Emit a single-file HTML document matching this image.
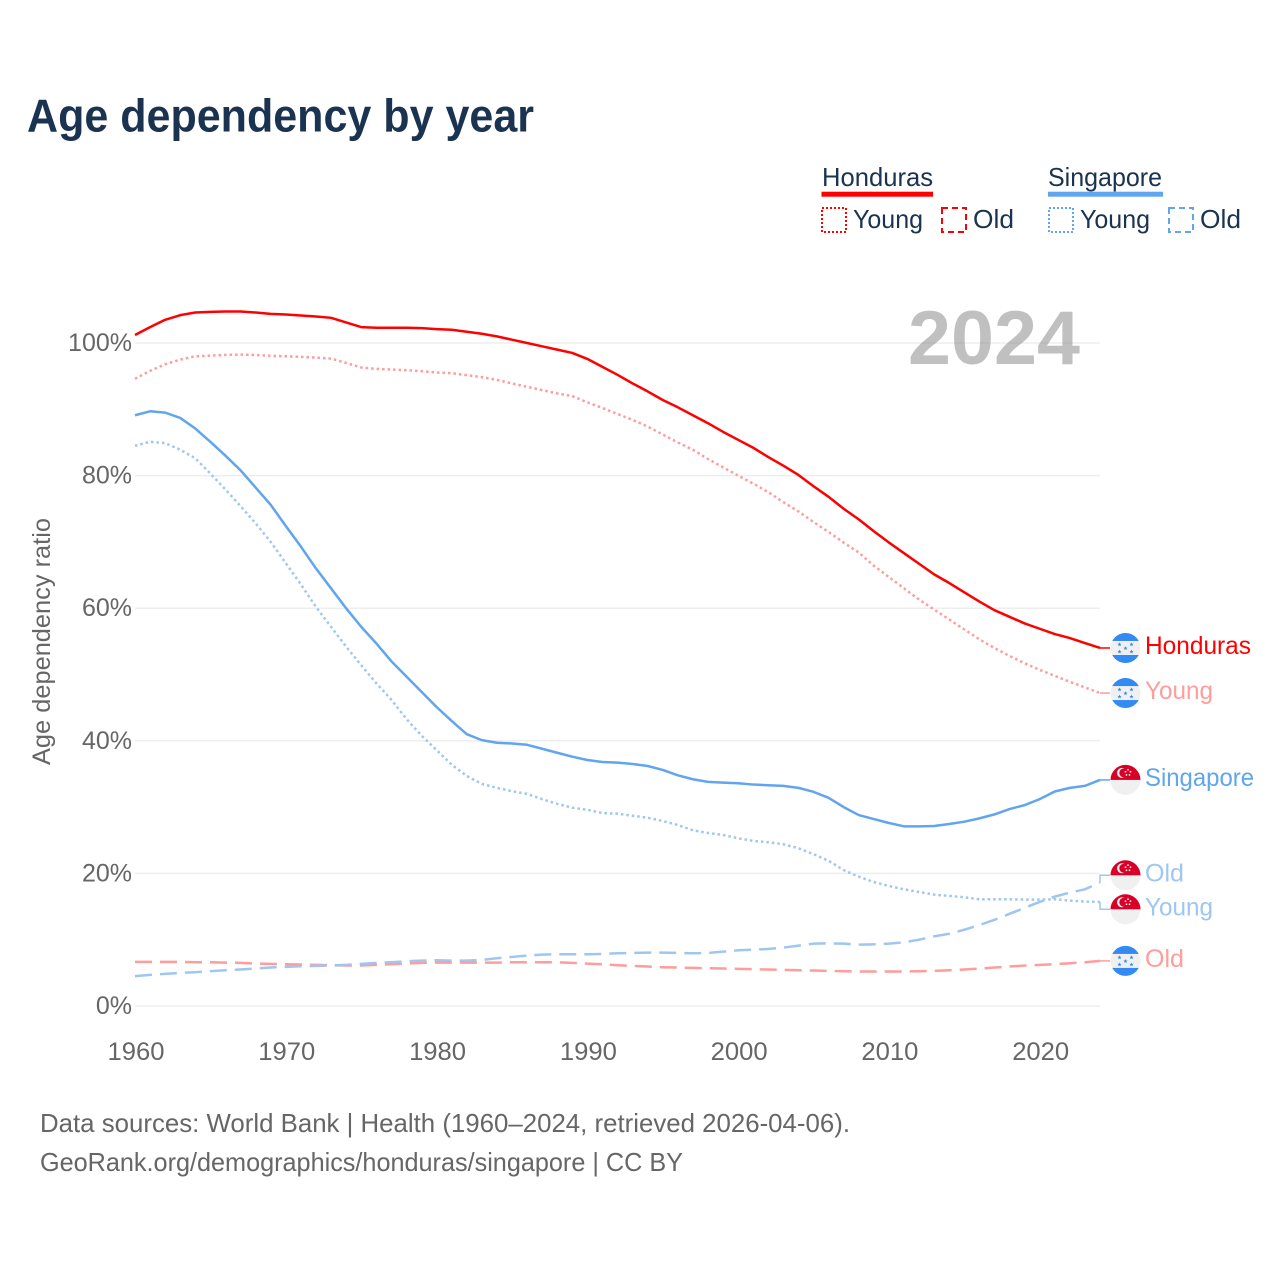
<!DOCTYPE html>
<html lang="en">
<head>
<meta charset="utf-8">
<title>Age dependency by year</title>
<style>
html,body{margin:0;padding:0;background:#fff;}
svg{display:block;font-family:"Liberation Sans",Arial,sans-serif;}
</style>
</head>
<body>
<svg id="chart" xmlns="http://www.w3.org/2000/svg" width="1280" height="1280" viewBox="0 0 1280 1280">
  <defs>
    <clipPath id="flag-clip"><circle cx="0" cy="0" r="15"/></clipPath>
    <path id="flag-star" d="M0 -2.2L0.6 -0.7L2.1 -0.7L0.9 0.3L1.3 1.8L0 0.9L-1.3 1.8L-0.9 0.3L-2.1 -0.7L-0.6 -0.7Z" fill="#338af3"/>
    <g id="flag-honduras" clip-path="url(#flag-clip)">
      <rect x="-16" y="-16" width="32" height="32" fill="#f0f0f0"/>
      <rect x="-16" y="-16" width="32" height="9" fill="#338af3"/>
      <rect x="-16" y="7" width="32" height="9" fill="#338af3"/>
      <use href="#flag-star" x="-6" y="-3.5"/><use href="#flag-star" x="6" y="-3.5"/>
      <use href="#flag-star" x="0" y="0.3"/>
      <use href="#flag-star" x="-6" y="3.7"/><use href="#flag-star" x="6" y="3.7"/>
    </g>
    <g id="flag-singapore" clip-path="url(#flag-clip)">
      <rect x="-16" y="-16" width="32" height="32" fill="#f0f0f0"/>
      <rect x="-16" y="-16" width="32" height="16" fill="#d80027"/>
      <circle cx="-3.5" cy="-7" r="5" fill="#f0f0f0"/>
      <circle cx="-1.6" cy="-7" r="4.6" fill="#d80027"/>
      <circle cx="2.5" cy="-10.2" r="0.9" fill="#f0f0f0"/><circle cx="5" cy="-8.2" r="0.9" fill="#f0f0f0"/>
      <circle cx="4" cy="-5" r="0.9" fill="#f0f0f0"/><circle cx="1" cy="-5" r="0.9" fill="#f0f0f0"/>
      <circle cx="0" cy="-8.2" r="0.9" fill="#f0f0f0"/>
    </g>
  </defs>

  <text x="27" y="131.5" font-size="46" font-weight="700" fill="#1a3350" textLength="507" lengthAdjust="spacingAndGlyphs">Age dependency by year</text>

  <g font-size="26" fill="#1a3350">
    <text x="822" y="186" textLength="111" lengthAdjust="spacingAndGlyphs">Honduras</text>
    <rect x="821.5" y="191.7" width="111.5" height="5" fill="#ff0000"/>
    <rect x="822" y="208" width="24" height="24" fill="none" stroke="#ff0000" stroke-width="2" stroke-dasharray="2 2"/>
    <text x="853" y="228" textLength="70" lengthAdjust="spacingAndGlyphs">Young</text>
    <rect x="942" y="208" width="24" height="24" fill="none" stroke="#ff0000" stroke-width="2" stroke-dasharray="6 4"/>
    <text x="973" y="228" textLength="41" lengthAdjust="spacingAndGlyphs">Old</text>
    <text x="1048" y="186" textLength="114" lengthAdjust="spacingAndGlyphs">Singapore</text>
    <rect x="1048" y="191.7" width="115" height="5" fill="#60a5ee"/>
    <rect x="1049" y="208" width="24" height="24" fill="none" stroke="#60a5ee" stroke-width="2" stroke-dasharray="2 2"/>
    <text x="1080" y="228" textLength="70" lengthAdjust="spacingAndGlyphs">Young</text>
    <rect x="1169" y="208" width="24" height="24" fill="none" stroke="#60a5ee" stroke-width="2" stroke-dasharray="6 4"/>
    <text x="1200" y="228" textLength="41" lengthAdjust="spacingAndGlyphs">Old</text>
  </g>

  <g id="grid"></g>
  <text x="908" y="364" font-size="76" font-weight="700" fill="#969696" fill-opacity="0.6" textLength="172" lengthAdjust="spacingAndGlyphs">2024</text>
  <g id="y-ticks" font-size="25" fill="#666666" text-anchor="end"></g>
  <g id="x-ticks" font-size="25" fill="#666666" text-anchor="middle"></g>
  <text transform="translate(50 641.5) rotate(-90)" font-size="25" fill="#666666" text-anchor="middle" textLength="247" lengthAdjust="spacingAndGlyphs">Age dependency ratio</text>
  <g id="series" fill="none" stroke-width="2.5" stroke-linejoin="round"></g>
  <g id="end-labels" font-size="25"></g>

  <g font-size="26" fill="#666666">
    <text x="40" y="1132" textLength="810" lengthAdjust="spacingAndGlyphs">Data sources: World Bank | Health (1960–2024, retrieved 2026-04-06).</text>
    <text x="40" y="1171" textLength="643" lengthAdjust="spacingAndGlyphs">GeoRank.org/demographics/honduras/singapore | CC BY</text>
  </g>
</svg>
<script>
var startYear = 1960;
var endYear = 2024;
var hondurasTotal = [
  101.2,102.4,103.5,104.2,104.6,104.7,104.75,104.75,104.6,104.4,
  104.3,104.15,104,103.8,103.1,102.4,102.3,102.3,102.3,102.25,
  102.1,102,101.7,101.4,101,100.5,100,99.5,99,98.5,
  97.6,96.4,95.2,93.9,92.7,91.4,90.3,89.1,87.9,86.6,
  85.4,84.2,82.8,81.5,80.1,78.4,76.8,75,73.4,71.6,
  69.9,68.3,66.7,65.1,63.8,62.4,61,59.7,58.7,57.7,
  56.9,56.1,55.5,54.75,54];
var hondurasYoung = [
  94.6,95.8,96.8,97.5,98,98.1,98.2,98.25,98.2,98.05,
  98,97.9,97.8,97.65,97,96.3,96.1,96,95.9,95.75,
  95.55,95.45,95.15,94.85,94.45,93.9,93.4,92.9,92.4,92,
  91.05,90.2,89.3,88.4,87.4,86.2,85,83.9,82.5,81.25,
  80,78.8,77.5,76,74.6,73,71.5,69.9,68.4,66.4,
  64.7,63,61.3,59.8,58.3,56.8,55.3,54,52.8,51.7,
  50.7,49.8,48.9,48.05,47.2];
var hondurasOld = [
  6.65,6.65,6.65,6.65,6.6,6.6,6.55,6.5,6.4,6.35,
  6.3,6.25,6.2,6.15,6.1,6.1,6.2,6.3,6.4,6.5,
  6.55,6.55,6.55,6.55,6.55,6.6,6.6,6.6,6.6,6.5,
  6.4,6.3,6.15,6.05,5.95,5.85,5.8,5.75,5.7,5.65,
  5.6,5.55,5.5,5.45,5.4,5.35,5.3,5.25,5.2,5.2,
  5.2,5.2,5.25,5.3,5.4,5.5,5.65,5.8,5.95,6.1,
  6.2,6.3,6.45,6.6,6.8];
var singaporeTotal = [
  89.1,89.7,89.5,88.7,87.1,85.1,83,80.8,78.2,75.6,
  72.4,69.3,66,63,60,57.2,54.7,52,49.7,47.4,
  45.1,43,41,40.1,39.7,39.6,39.4,38.8,38.2,37.6,
  37.1,36.8,36.7,36.5,36.2,35.6,34.8,34.2,33.8,33.7,
  33.6,33.4,33.3,33.2,32.9,32.3,31.4,30,28.8,28.2,
  27.6,27.1,27.1,27.15,27.45,27.8,28.3,28.9,29.7,30.3,
  31.2,32.35,32.9,33.2,34.1];
var singaporeYoung = [
  84.5,85.1,84.9,83.9,82.6,80.3,77.9,75.4,72.8,70,
  66.8,63.6,60.2,57.2,54.2,51.4,48.7,46.2,43.3,40.8,
  38.6,36.4,34.7,33.5,32.9,32.4,32,31.2,30.5,29.9,
  29.6,29.1,29,28.7,28.4,27.9,27.3,26.5,26.1,25.8,
  25.3,24.9,24.7,24.4,23.8,22.9,21.9,20.5,19.5,18.7,
  18.1,17.6,17.2,16.8,16.6,16.4,16.1,16.1,16.1,16.05,
  16.05,16.1,15.9,15.75,15.7];
var singaporeOld = [
  4.5,4.7,4.85,5,5.1,5.25,5.4,5.5,5.65,5.8,
  5.9,6,6.05,6.1,6.2,6.35,6.5,6.6,6.75,6.85,
  6.9,6.85,6.85,6.95,7.2,7.4,7.6,7.75,7.8,7.8,
  7.8,7.85,7.95,8,8.05,8.05,8,7.95,8,8.2,
  8.4,8.5,8.6,8.8,9.1,9.4,9.45,9.4,9.25,9.3,
  9.4,9.6,10,10.5,10.9,11.5,12.2,13,13.9,14.8,
  15.7,16.5,17.1,17.6,18.6];
var yTickValues = [0,20,40,60,80,100];
var yTickLabels = ["0%","20%","40%","60%","80%","100%"];
var xTickLabels = ["1960","1970","1980","1990","2000","2010","2020"];

var SVGNS = "http://www.w3.org/2000/svg";
function xScale(year){ return 135 + (year - startYear) * (1100 - 135) / (endYear - startYear); }
function yScale(value){ return 1006 - value * 6.63; }
function make(tag, attrs, parent){
  var el = document.createElementNS(SVGNS, tag);
  for (var k in attrs) el.setAttribute(k, attrs[k]);
  parent.appendChild(el);
  return el;
}
var gridG = document.getElementById("grid");
var yTickG = document.getElementById("y-ticks");
var xTickG = document.getElementById("x-ticks");
var seriesG = document.getElementById("series");
var labelG = document.getElementById("end-labels");

yTickValues.forEach(function(v, i){
  var g = make("line", {x1:135, x2:1100, y1:yScale(v), y2:yScale(v), stroke:"#eeeeee", "stroke-width":1.5}, gridG);
  
  
  var t = make("text", {x:132, y:yScale(v)+8}, yTickG);
  t.textContent = yTickLabels[i];
  
  
});
xTickLabels.forEach(function(label){
  var t = make("text", {x:xScale(Number(label))+1, y:1060, textLength:57, lengthAdjust:"spacingAndGlyphs"}, xTickG);
  t.textContent = label;
  
  
});

var seriesDefs = [
  {id:"honduras-old",    values:hondurasOld,    color:"#ff9c9c", dash:"17 8",  label:"Old",       labelW:39,  flag:"flag-honduras"},
  {id:"singapore-old",   values:singaporeOld,   color:"#9fc6f0", dash:"17 8",  label:"Old",       labelW:39,  flag:"flag-singapore"},
  {id:"honduras-young",  values:hondurasYoung,  color:"#ff9c9c", dash:"2.5 3", label:"Young",     labelW:68,  flag:"flag-honduras"},
  {id:"singapore-young", values:singaporeYoung, color:"#9fc6f0", dash:"2.5 3", label:"Young",     labelW:68,  flag:"flag-singapore"},
  {id:"singapore-total", values:singaporeTotal, color:"#60a5ee", dash:null,    label:"Singapore", labelW:109, flag:"flag-singapore"},
  {id:"honduras-total",  values:hondurasTotal,  color:"#ff0000", dash:null,    label:"Honduras",  labelW:106, flag:"flag-honduras"}
];

seriesDefs.forEach(function(s){
  var d = s.values.map(function(v, i){
    return (i ? "L" : "M") + xScale(startYear + i).toFixed(2) + " " + yScale(v).toFixed(2);
  }).join("");
  var p = make("path", {d:d, stroke:s.color}, seriesG);
  if (s.dash) p.setAttribute("stroke-dasharray", s.dash);
  
  
  s.endY = yScale(s.values[s.values.length - 1]);
  s.labelY = s.endY;
});

/* resolve end-label collisions: keep neighbours at least one flag apart */
var minGap = 34;
var sorted = seriesDefs.slice().sort(function(a, b){ return a.endY - b.endY; });
for (var i = 1; i < sorted.length; i++) {
  var gap = sorted[i].labelY - sorted[i-1].labelY;
  if (gap < minGap) {
    var shift = (minGap - gap) / 2;
    sorted[i-1].labelY -= shift;
    sorted[i].labelY += shift;
  }
}

seriesDefs.forEach(function(s){
  var c = make("path", {d:"M1100 " + s.endY.toFixed(2) + "V" + s.labelY.toFixed(2) + "H1110", fill:"none", stroke:s.color, "stroke-width":1.5}, labelG);
  
  
  var u = make("use", {href:"#" + s.flag, transform:"translate(1125.5 " + s.labelY.toFixed(2) + ")"}, labelG);
  
  
  var t = make("text", {x:1145, y:(s.labelY + 6).toFixed(2), fill:s.color, textLength:s.labelW, lengthAdjust:"spacingAndGlyphs"}, labelG);
  t.textContent = s.label;
  
  
});
</script>
</body>
</html>
